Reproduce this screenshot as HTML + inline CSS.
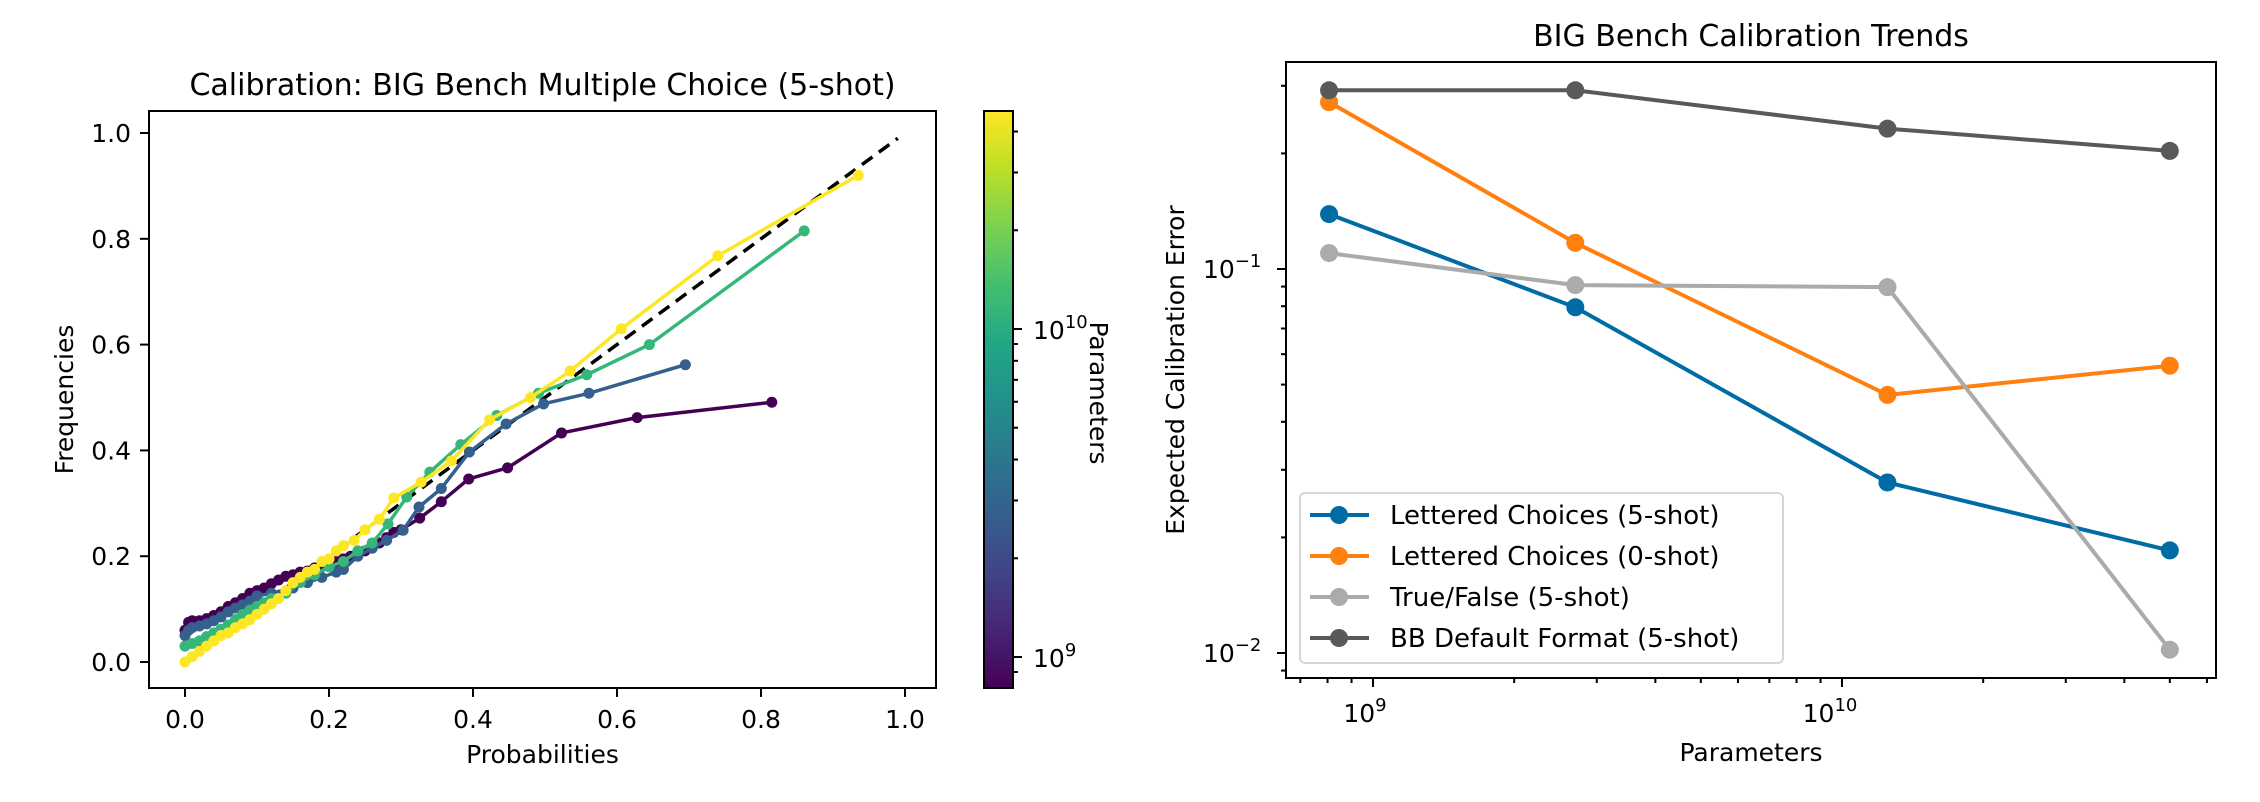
<!DOCTYPE html>
<html><head><meta charset="utf-8"><style>
html,body{margin:0;padding:0;background:#fff;}
svg{display:block;font-family:"DejaVu Sans","Liberation Sans",sans-serif;}
</style></head><body>
<svg id="fig" width="2260" height="802" viewBox="0 0 2260 802" xmlns="http://www.w3.org/2000/svg">
<defs>
<linearGradient id="viridis" x1="0" y1="1" x2="0" y2="0">
<stop offset="0" stop-color="#440154"/><stop offset="0.1" stop-color="#482475"/><stop offset="0.2" stop-color="#414487"/><stop offset="0.3" stop-color="#355f8d"/><stop offset="0.4" stop-color="#2a788e"/><stop offset="0.5" stop-color="#21918c"/><stop offset="0.6" stop-color="#22a884"/><stop offset="0.7" stop-color="#44bf70"/><stop offset="0.8" stop-color="#7ad151"/><stop offset="0.9" stop-color="#bddf26"/><stop offset="1" stop-color="#fde725"/>
</linearGradient>
</defs>
<g id="left"></g>
<g id="right"></g>
</svg>
<script>
// ---- Left chart data ----
const calibSeriesNames = ["800M", "2.7B", "12.5B", "46B"];
const calibColors = ["#440154", "#355f8d", "#35b779", "#fde725"];
const probPurple = [0,0.005,0.01,0.02,0.03,0.04,0.05,0.06,0.07,0.08,0.09,0.1,0.11,0.12,0.13,0.14,0.15,0.16,0.17,0.18,0.19,0.2,0.21,0.22,0.23,0.24,0.25,0.26,0.27,0.28,0.29,0.3,0.326,0.356,0.394,0.448,0.523,0.628,0.815];
const freqPurple = [0.06,0.075,0.078,0.078,0.082,0.088,0.095,0.105,0.112,0.12,0.13,0.135,0.14,0.148,0.155,0.162,0.165,0.17,0.172,0.178,0.18,0.185,0.19,0.195,0.2,0.205,0.21,0.218,0.225,0.235,0.245,0.25,0.272,0.303,0.346,0.367,0.433,0.462,0.491];
const probBlue = [0,0.005,0.01,0.02,0.03,0.04,0.05,0.06,0.07,0.08,0.09,0.1,0.12,0.15,0.17,0.19,0.21,0.22,0.24,0.26,0.28,0.303,0.325,0.356,0.395,0.446,0.498,0.561,0.695];
const freqBlue = [0.05,0.06,0.065,0.068,0.072,0.078,0.085,0.095,0.102,0.108,0.115,0.125,0.13,0.14,0.15,0.16,0.17,0.175,0.2,0.215,0.23,0.249,0.293,0.328,0.397,0.45,0.488,0.508,0.562];
const probGreen = [0,0.01,0.02,0.03,0.04,0.05,0.06,0.07,0.08,0.09,0.1,0.11,0.12,0.14,0.16,0.18,0.2,0.22,0.24,0.26,0.282,0.308,0.34,0.383,0.433,0.491,0.558,0.645,0.86];
const freqGreen = [0.03,0.035,0.04,0.048,0.055,0.062,0.07,0.08,0.09,0.098,0.105,0.112,0.12,0.13,0.15,0.165,0.18,0.19,0.21,0.225,0.261,0.312,0.359,0.411,0.466,0.508,0.543,0.6,0.815];
const probYellow = [0,0.01,0.02,0.03,0.04,0.05,0.06,0.07,0.08,0.09,0.1,0.11,0.12,0.13,0.14,0.15,0.16,0.17,0.18,0.19,0.2,0.21,0.22,0.235,0.25,0.27,0.29,0.328,0.37,0.423,0.48,0.535,0.606,0.74,0.935];
const freqYellow = [0,0.01,0.02,0.03,0.04,0.05,0.055,0.065,0.072,0.08,0.09,0.1,0.11,0.12,0.135,0.15,0.16,0.17,0.175,0.19,0.195,0.21,0.22,0.23,0.25,0.27,0.31,0.34,0.38,0.458,0.5,0.55,0.63,0.768,0.92];
const leftTicks = [0,0.2,0.4,0.6,0.8,1.0];
const leftTickLabels = ["0.0","0.2","0.4","0.6","0.8","1.0"];
const cbarMajor = [9,10];
// ---- Right chart data ----
const params = [8.06e8, 2.7e9, 1.25e10, 5.0e10];
const seriesNames = ["Lettered Choices (5-shot)","Lettered Choices (0-shot)","True/False (5-shot)","BB Default Format (5-shot)"];
const seriesColors = ["#006ba4","#ff800e","#ababab","#595959"];
const eceLettered5 = [0.139, 0.0795, 0.0278, 0.0185];
const eceLettered0 = [0.272, 0.117, 0.047, 0.056];
const eceTrueFalse = [0.110, 0.0908, 0.0897, 0.0102];
const eceDefault = [0.292, 0.292, 0.232, 0.203];

const NS = "http://www.w3.org/2000/svg";
function mk(parent, tag, attrs, text){
  const e = document.createElementNS(NS, tag);
  for (const k in attrs) e.setAttribute(k, attrs[k]);
  if (text !== undefined) e.textContent = text;
  parent.appendChild(e);
  return e;
}

// ===== LEFT =====
const L = document.getElementById('left');
const lx0 = 149, lx1 = 936, ly0 = 111, ly1 = 688;
const xL = v => 185 + v * 720;
const yL = v => 662 - v * 529;
let t;
t = mk(L, 'text', {x: (lx0+lx1)/2, y: 95, 'font-size': 30, 'text-anchor': 'middle'}, 'Calibration: BIG Bench Multiple Choice (5-shot)');


t = mk(L, 'line', {x1: xL(0), y1: yL(0), x2: xL(0.99), y2: yL(0.99), stroke: '#000', 'stroke-width': 3.5, 'stroke-dasharray': '13 8'});


const leftSeries = [[probPurple,freqPurple],[probBlue,freqBlue],[probGreen,freqGreen],[probYellow,freqYellow]];
leftSeries.forEach((s, i) => {
  const g = mk(L, 'g', {});
  
  
  const pts = s[0].map((p, j) => xL(p) + ',' + yL(s[1][j])).join(' ');
  mk(g, 'polyline', {points: pts, fill: 'none', stroke: calibColors[i], 'stroke-width': 3.5, 'stroke-linejoin': 'round'});
  s[0].forEach((p, j) => {
    const c = mk(g, 'circle', {cx: xL(p), cy: yL(s[1][j]), r: 5.5, fill: calibColors[i]});
    
    
  });
});
t = mk(L, 'rect', {x: lx0, y: ly0, width: lx1-lx0, height: ly1-ly0, fill: 'none', stroke: '#000', 'stroke-width': 2});


leftTicks.forEach((v, i) => {
  mk(L, 'line', {x1: xL(v), y1: ly1, x2: xL(v), y2: ly1+9, stroke: '#000', 'stroke-width': 2});
  t = mk(L, 'text', {x: xL(v), y: 728, 'font-size': 25, 'text-anchor': 'middle'}, leftTickLabels[i]);
  
  
  mk(L, 'line', {x1: lx0-9, y1: yL(v), x2: lx0, y2: yL(v), stroke: '#000', 'stroke-width': 2});
  t = mk(L, 'text', {x: 131, y: yL(v)+9, 'font-size': 25, 'text-anchor': 'end'}, leftTickLabels[i]);
  
  
});
t = mk(L, 'text', {x: (lx0+lx1)/2, y: 763, 'font-size': 25, 'text-anchor': 'middle'}, 'Probabilities');


t = mk(L, 'text', {x: 0, y: 0, 'font-size': 25, 'text-anchor': 'middle', transform: 'translate(73,' + (ly0+ly1)/2 + ') rotate(-90)'}, 'Frequencies');


const cb = mk(L, 'g', {});


const cx0 = 984, cx1 = 1013;
const yC = lg => 657 - (lg - 9) * 328;
mk(cb, 'rect', {x: cx0, y: ly0, width: cx1-cx0, height: ly1-ly0, fill: 'url(#viridis)', stroke: '#000', 'stroke-width': 2});
for (let d = 8; d <= 10; d++) for (let m = 1; m <= 9; m++) {
  const lg = d + Math.log10(m);
  const y = yC(lg);
  if (y < ly0 || y > ly1) continue;
  mk(cb, 'line', {x1: cx1, y1: y, x2: cx1 + (m === 1 ? 9 : 5), y2: y, stroke: '#000', 'stroke-width': 2});
}
cbarMajor.forEach(e => {
  t = mk(cb, 'text', {x: 1033, y: yC(e)+10, 'font-size': 25}, '10');
  mk(t, 'tspan', {dy: -11, 'font-size': 18}, String(e));
  
  
});
t = mk(cb, 'text', {x: 0, y: 0, 'font-size': 25, 'text-anchor': 'middle', transform: 'translate(1090,393) rotate(90)'}, 'Parameters');



// ===== RIGHT =====
const R = document.getElementById('right');
const rx0 = 1286, rx1 = 2216, ry0 = 62, ry1 = 678;
const xR = v => 1373 + (Math.log10(v) - 9) * 469;
const yR = v => 653 - (Math.log10(v) + 2) * 384;
t = mk(R, 'text', {x: (rx0+rx1)/2, y: 46, 'font-size': 30, 'text-anchor': 'middle'}, 'BIG Bench Calibration Trends');


const rightSeries = [eceLettered5, eceLettered0, eceTrueFalse, eceDefault];
rightSeries.forEach((s, i) => {
  const g = mk(R, 'g', {});
  
  
  mk(g, 'polyline', {points: params.map((p, j) => xR(p) + ',' + yR(s[j])).join(' '), fill: 'none', stroke: seriesColors[i], 'stroke-width': 4});
  params.forEach((p, j) => {
    const c = mk(g, 'circle', {cx: xR(p), cy: yR(s[j]), r: 9, fill: seriesColors[i]});
    
    
  });
});
t = mk(R, 'rect', {x: rx0, y: ry0, width: rx1-rx0, height: ry1-ry0, fill: 'none', stroke: '#000', 'stroke-width': 2});


for (let d = 8; d <= 10; d++) for (let m = 1; m <= 9; m++) {
  const v = m * Math.pow(10, d);
  const x = xR(v);
  if (x < rx0 || x > rx1) continue;
  mk(R, 'line', {x1: x, y1: ry1, x2: x, y2: ry1 + (m === 1 ? 9 : 5), stroke: '#000', 'stroke-width': 2});
}
for (let d = -3; d <= -1; d++) for (let m = 1; m <= 9; m++) {
  const v = m * Math.pow(10, d);
  const y = yR(v);
  if (y < ry0 || y > ry1) continue;
  mk(R, 'line', {x1: rx0 - (m === 1 ? 9 : 5), y1: y, x2: rx0, y2: y, stroke: '#000', 'stroke-width': 2});
}
[9, 10].forEach(e => {
  t = mk(R, 'text', {x: xR(Math.pow(10, e)) - (e === 9 ? 8 : 12), y: 722, 'font-size': 25, 'text-anchor': 'middle'}, '10');
  mk(t, 'tspan', {dy: -11, 'font-size': 18}, String(e));
  
  
});
[-2, -1].forEach(e => {
  t = mk(R, 'text', {x: 1203, y: yR(Math.pow(10, e)) + 9, 'font-size': 25}, '10');
  mk(t, 'tspan', {dy: -11, 'font-size': 18}, '\u2212' + String(-e));
  
  
});
t = mk(R, 'text', {x: (rx0+rx1)/2, y: 761, 'font-size': 25, 'text-anchor': 'middle'}, 'Parameters');


t = mk(R, 'text', {x: 0, y: 0, 'font-size': 25, 'text-anchor': 'middle', transform: 'translate(1184,' + (ry0+ry1)/2 + ') rotate(-90)'}, 'Expected Calibration Error');


const lg = mk(R, 'g', {});


mk(lg, 'rect', {x: 1300, y: 493, width: 483, height: 170, rx: 5, fill: '#fff', 'fill-opacity': 0.85, stroke: '#d6d6d6', 'stroke-width': 2});
seriesNames.forEach((n, i) => {
  const y = 515 + i * 41;
  const e = mk(lg, 'g', {});
  
  
  mk(e, 'line', {x1: 1310, y1: y, x2: 1369, y2: y, stroke: seriesColors[i], 'stroke-width': 4});
  mk(e, 'circle', {cx: 1339, cy: y, r: 9, fill: seriesColors[i]});
  mk(e, 'text', {x: 1390, y: y + 9, 'font-size': 26}, n);
});
</script>
</body></html>
